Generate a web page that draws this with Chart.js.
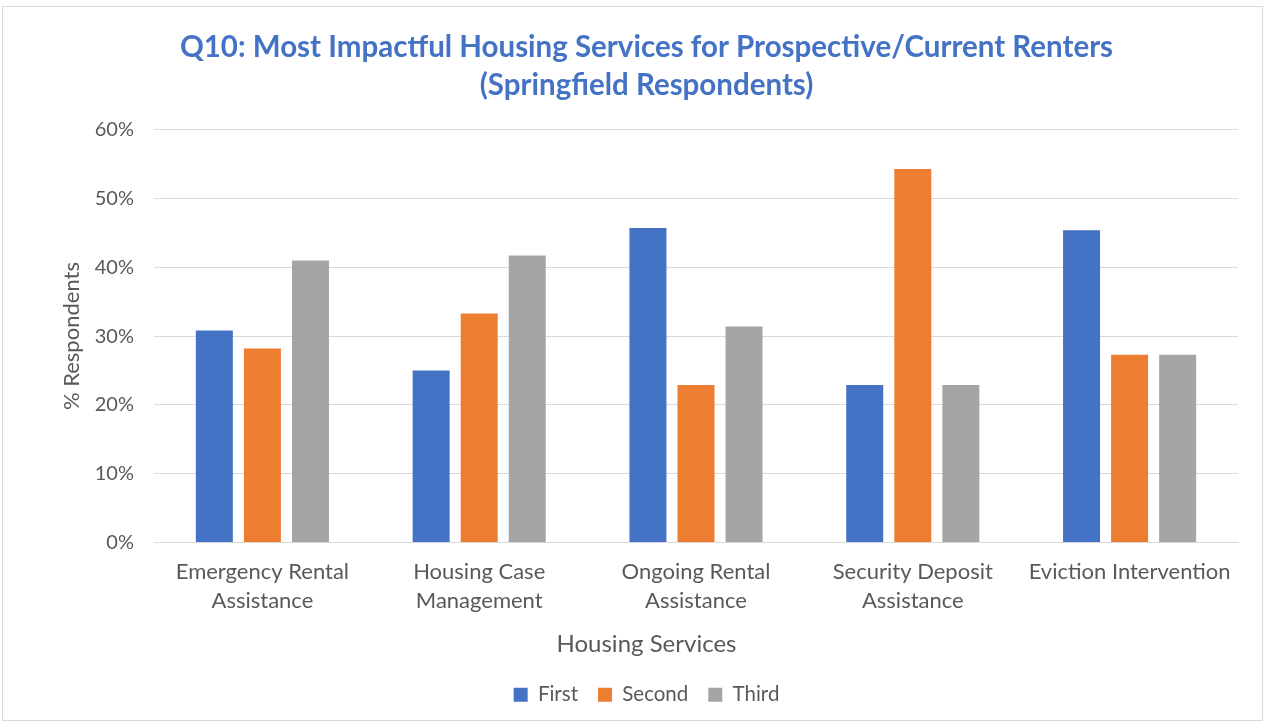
<!DOCTYPE html>
<html>
<head>
<meta charset="utf-8">
<script src="https://cdn.jsdelivr.net/npm/chart.js@4/dist/chart.umd.min.js"></script>
<style>
  body { margin: 0; background: #fff; }
  .ChartWrapper { position: relative; width: 1269px; height: 725px; }
  .ChartFrame { position: absolute; left: 2px; top: 6px; width: 1259px; height: 713px; border: 1px solid #d9d9d9; pointer-events: none; }
</style>
</head>
<body>
<div class="ChartWrapper">
  <canvas id="ServicesPlot" width="1269" height="725"></canvas>
  <div class="ChartFrame"></div>
</div>
<script>
const categories = [
    ['Emergency Rental', 'Assistance'],
    ['Housing Case', 'Management'],
    ['Ongoing Rental', 'Assistance'],
    ['Security Deposit', 'Assistance'],
    'Eviction Intervention'
]
const firstValues = [30.8, 25.0, 45.7, 22.9, 45.4]
const secondValues = [28.2, 33.3, 22.9, 54.3, 27.3]
const thirdValues = [41.0, 41.7, 31.4, 22.9, 27.3]
const yTicks = [0, 10, 20, 30, 40, 50, 60]
const xTitle = 'Housing Services'

const fontFamily = 'Lato, "Noto Sans", sans-serif'
const textColor = '#595959'
const gridColor = '#d9d9d9'

// Excel centres the axis title on the whole chart, not the plot area
const xTitlePlugin = {
    id: 'xTitle',
    afterDraw: chart => {
        const c = chart.ctx
        const tb = chart.titleBlock
        const x = (tb.left + tb.right) / 2
        const y = chart.scales.x.bottom - 6 - 24 * 1.2 / 2
        c.save()
        c.font = '24px ' + fontFamily
        c.fillStyle = textColor
        c.textAlign = 'center'
        c.textBaseline = 'middle'
        c.fillText(xTitle, x, y)
        c.restore()
    }
}

const ctx = document.getElementById('ServicesPlot').getContext('2d')
new Chart(ctx, {
    type: 'bar',
    data: {
        labels: categories,
        datasets: [{
            label: 'First',
            data: firstValues,
            backgroundColor: '#4472c4',
        }, {
            label: 'Second',
            data: secondValues,
            backgroundColor: '#ed7d31',
        }, {
            label: 'Third',
            data: thirdValues,
            backgroundColor: '#a5a5a5',
        }]
    },
    plugins: [xTitlePlugin],
    options: {
        responsive: false,
        animation: false,
        categoryPercentage: 0.665,
        barPercentage: 0.77,
        layout: { padding: { left: 55, right: 31, top: 20, bottom: 10 } },
        plugins: {
            title: {
                display: true,
                text: ['Q10: Most Impactful Housing Services for Prospective/Current Renters', '(Springfield Respondents)'],
                color: '#4472c4',
                font: { family: fontFamily, size: 29.5, weight: 'bold', lineHeight: 1.3 },
                padding: { top: 8, bottom: 25 }
            },
            legend: {
                position: 'bottom',
                labels: {
                    color: textColor,
                    font: { family: fontFamily, size: 20.5 },
                    boxWidth: 14,
                    boxHeight: 14,
                    padding: 20
                }
            },
            tooltip: { enabled: false }
        },
        scales: {
            x: {
                afterFit: axis => { axis.height = 122 },
                grid: { display: false },
                border: { color: gridColor },
                ticks: {
                    color: textColor,
                    font: { family: fontFamily, size: 22, lineHeight: 1.32 },
                    maxRotation: 0,
                    padding: 7
                },
                title: {
                    display: false,
                    text: xTitle
                }
            },
            y: {
                min: 0,
                max: 60,
                afterBuildTicks: axis => { axis.ticks = yTicks.map(v => ({ value: v })) },
                afterFit: axis => { axis.width = 99 },
                grid: { color: gridColor, drawTicks: false, tickLength: 0 },
                border: { display: false },
                ticks: {
                    color: textColor,
                    font: { family: fontFamily, size: 20 },
                    padding: 20,
                    callback: v => v + '%'
                },
                title: {
                    display: true,
                    text: '% Respondents',
                    color: textColor,
                    font: { family: fontFamily, size: 22 }
                }
            }
        }
    }
})
</script>
</body>
</html>
